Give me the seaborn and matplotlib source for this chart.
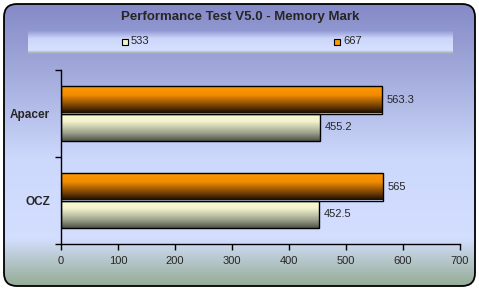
import numpy as np
import pandas as pd
import matplotlib
matplotlib.use("Agg")
import matplotlib.pyplot as plt
import seaborn as sns
from matplotlib.patches import FancyBboxPatch, Rectangle
from matplotlib.colors import LinearSegmentedColormap

title = "Performance Test V5.0 - Memory Mark"
categories = ["Apacer", "OCZ"]
series_names = ["533", "667"]
values_533 = [455.2, 452.5]
values_667 = [563.3, 565.0]
label_533 = ["455.2", "452.5"]
label_667 = ["563.3", "565"]
xticks = [0, 100, 200, 300, 400, 500, 600, 700]

df = pd.DataFrame({
    "cat": categories * 2,
    "series": ["667"] * 2 + ["533"] * 2,
    "value": values_667 + values_533,
})

sns.set_theme(style="white")
plt.rcParams['font.family'] = ['Liberation Sans', 'DejaVu Sans']

W, H = 479, 291
fig = plt.figure(figsize=(W / 100, H / 100), dpi=100)
fig.patch.set_facecolor("white")

# background with rounded box
bg = fig.add_axes([0, 0, 1, 1], zorder=0)
bg.set_xlim(0, W)
bg.set_ylim(H, 0)
bg.axis("off")
bg_cmap = LinearSegmentedColormap.from_list("bg", [
    (0.0, (0.52, 0.54, 0.78)),
    (0.25, (0.64, 0.67, 0.86)),
    (0.55, (0.80, 0.85, 0.99)),
    (0.83, (0.83, 0.87, 1.0)),
    (0.89, (0.74, 0.80, 0.84)),
    (1.0, (0.58, 0.67, 0.58)),
])
grad = np.linspace(0, 1, 256).reshape(-1, 1)
im = bg.imshow(grad, cmap=bg_cmap, extent=[3, 476, 287, 3], aspect="auto", zorder=1)
box = FancyBboxPatch((4, 4), 471, 282, boxstyle="round,pad=0,rounding_size=13",
                     facecolor="none", edgecolor="black", linewidth=1.3, zorder=3)
bg.add_patch(box)
im.set_clip_path(box)

# legend band
band_cmap = LinearSegmentedColormap.from_list("band", [
    (0.0, (0.55, 0.58, 0.82)),
    (0.35, (0.80, 0.84, 0.98)),
    (0.85, (0.84, 0.88, 1.0)),
    (0.92, (0.70, 0.74, 0.78)),
    (1.0, (0.60, 0.68, 0.58)),
])
bg.imshow(grad, cmap=band_cmap, extent=[28, 453, 54, 30], aspect="auto", zorder=2)
bg.add_patch(Rectangle((122, 38.5), 6, 6, facecolor="#f4f4c8", edgecolor="black", lw=0.8, zorder=4))
bg.text(131, 41.5, "533", fontsize=8, va="center", ha="left", zorder=4)
bg.add_patch(Rectangle((334, 38.5), 6, 6, facecolor="#ff9900", edgecolor="black", lw=0.8, zorder=4))
bg.text(343, 41.5, "667", fontsize=8, va="center", ha="left", zorder=4)
bg.text(240, 17, title, fontsize=9.5, fontweight="bold", ha="center", va="center", zorder=4)

# main plot
ax = fig.add_axes([61 / W, (H - 244) / H, 399 / W, 174 / H], zorder=2)
ax.patch.set_alpha(0)
sns.barplot(data=df, y="cat", x="value", hue="series", hue_order=["667", "533"],
            palette={"667": "#ff9900", "533": "#ffffd0"},
            order=categories, orient="h", width=0.64, ax=ax, legend=False,
            edgecolor="black", linewidth=1.0, saturation=1)

orange_cmap = LinearSegmentedColormap.from_list("or", [
    (0.0, (1.0, 0.60, 0.0)), (0.35, (0.95, 0.55, 0.0)),
    (0.75, (0.45, 0.25, 0.02)), (1.0, (0.10, 0.05, 0.0))])
cream_cmap = LinearSegmentedColormap.from_list("cr", [
    (0.0, (1.0, 1.0, 0.84)), (0.3, (0.95, 0.95, 0.80)),
    (0.7, (0.62, 0.64, 0.56)), (1.0, (0.30, 0.32, 0.28))])

for p in list(ax.patches):
    x0, y0 = p.get_x(), p.get_y()
    w, h = p.get_width(), p.get_height()
    fc = p.get_facecolor()
    cmap = orange_cmap if fc[2] < 0.5 else cream_cmap
    gim = ax.imshow(grad, cmap=cmap, extent=[x0, x0 + w, y0 + h, y0],
                    aspect="auto", zorder=2)
    gim.set_clip_path(p)
    p.set_facecolor("none")
    p.set_zorder(3)

ax.set_xlim(0, 700)
ax.set_ylim(1.5, -0.5)

# value labels
for i in range(len(categories)):
    ax.text(values_667[i] + 8, i - 0.16, label_667[i], fontsize=8, va="center", ha="left")
    ax.text(values_533[i] + 8, i + 0.16, label_533[i], fontsize=8, va="center", ha="left")

for s in ["top", "right"]:
    ax.spines[s].set_visible(False)
for s in ["left", "bottom"]:
    ax.spines[s].set_color("black")
    ax.spines[s].set_linewidth(1.0)

ax.set_xticks(xticks)
ax.set_xticklabels([str(t) for t in xticks], fontsize=8)
ax.tick_params(axis="x", which="major", direction="out", length=4, width=1, color="black", pad=5, bottom=True)
ax.set_yticks([0, 1])
ax.set_yticklabels(categories, fontsize=8.5, fontweight="bold")
ax.tick_params(axis="y", which="major", length=0, pad=8)
ax.set_yticks([-0.5, 0.5, 1.5], minor=True)
ax.tick_params(axis="y", which="minor", direction="out", length=4, width=1, color="black", left=True)
ax.set_xlabel("")
ax.set_ylabel("")

fig.savefig("out.png", dpi=100)
